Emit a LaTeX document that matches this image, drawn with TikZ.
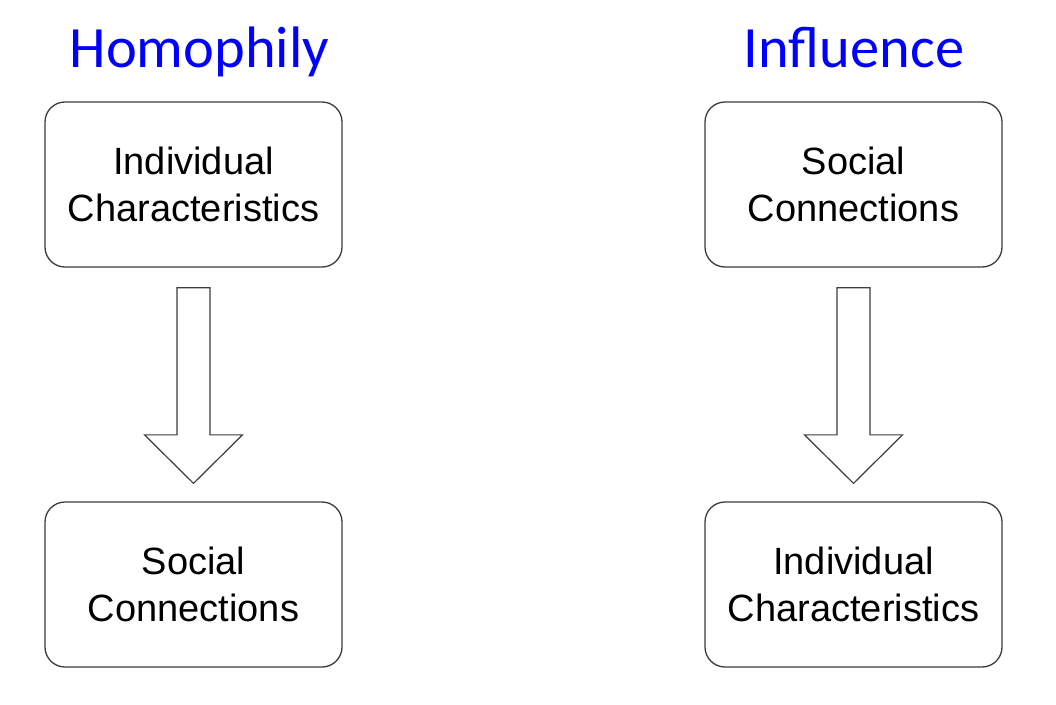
\documentclass[tikz,border=0pt]{standalone}
\usepackage{fontspec}
\setmainfont{Liberation Sans}
\newfontfamily\titlefont{Carlito}
\usetikzlibrary{calc}
\definecolor{boxgray}{RGB}{60,60,60}
\definecolor{titleblue}{RGB}{0,0,255}
\newcommand\fatdown[2]{%
  \draw[fatarrow] ($(#1.south)+(-16.5,20)$) -- ($(#1.south)+(16.5,20)$)
    -- ($(#2.north)+(16.5,-66.5)$) -- ($(#2.north)+(49,-66.5)$)
    -- ($(#2.north)+(0,-18)$) -- ($(#2.north)+(-49,-66.5)$)
    -- ($(#2.north)+(-16.5,-66.5)$) -- cycle;}
\begin{document}
\begin{tikzpicture}[x=1pt,y=-1pt,
  box/.style={draw=boxgray, line width=1.3pt, rounded corners=20pt,
    minimum width=297pt, minimum height=165pt, align=center, inner sep=0pt,
    font=\fontsize{38}{47}\selectfont},
  titletext/.style={text=titleblue, font=\titlefont\fontsize{58.5}{64}\selectfont,
    inner sep=0pt, anchor=base},
  fatarrow/.style={draw=boxgray, line width=1.2pt, fill=white, line join=miter}]
\useasboundingbox (0,0) rectangle (1056,704);
\fill[white] (0,0) rectangle (1056,704);
% titles
\node[titletext] (t1) at (199.5,67.5) {Homophily};
\node[titletext] (t2) at (854,67.5) {Influence};
% boxes
\node[box] (a1) at (193.5,184.5) {Individual\\Characteristics};
\node[box] (b1) at (193.5,584.5) {Social\\Connections};
\node[box] (a2) at (853.5,184.5) {Social\\Connections};
\node[box] (b2) at (853.5,584.5) {Individual\\Characteristics};
% arrows
\fatdown{a1}{b1}
\fatdown{a2}{b2}
\end{tikzpicture}
\end{document}
